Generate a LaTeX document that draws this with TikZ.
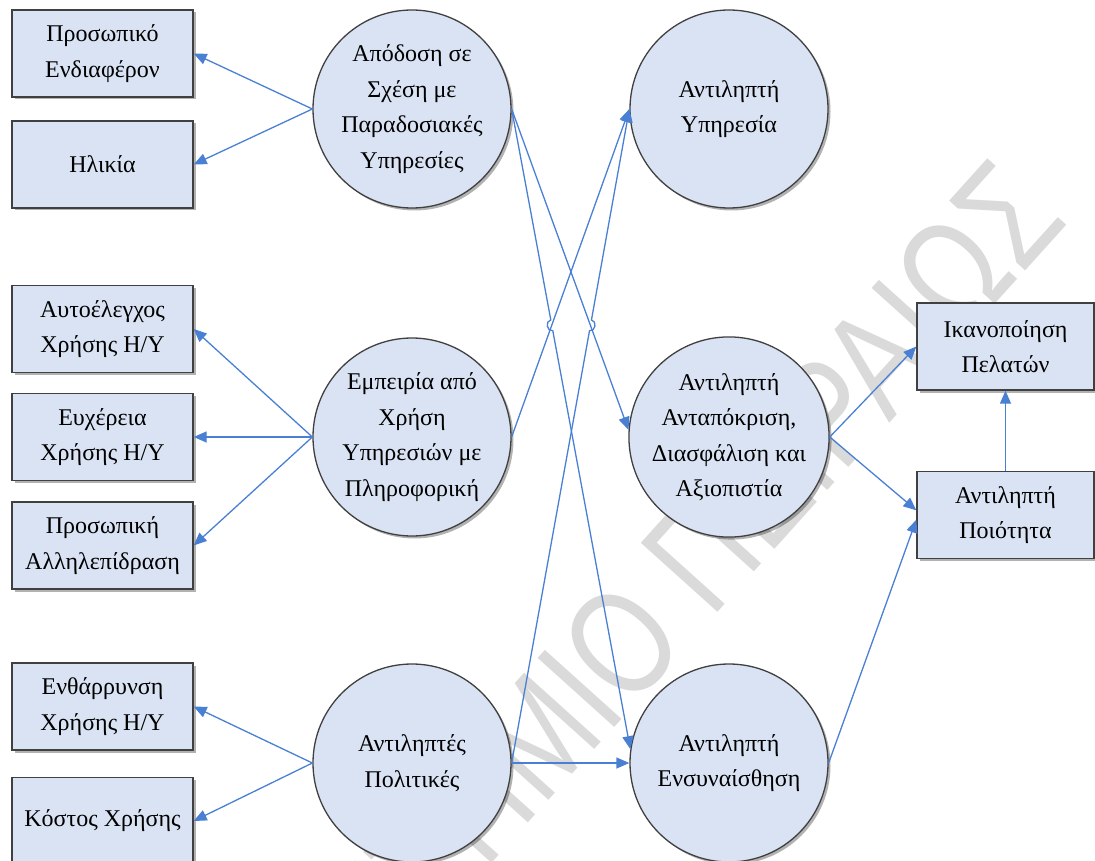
\documentclass[tikz,border=0pt]{standalone}
\usepackage{fontspec}
\setmainfont{Liberation Serif}
\newfontfamily\wmfont{Liberation Sans}
\usetikzlibrary{arrows.meta,calc,shadows}
\definecolor{fillb}{HTML}{DAE3F3}
\definecolor{edgec}{HTML}{404040}
\definecolor{connc}{HTML}{4A80D4}
\definecolor{wmc}{HTML}{DADADA}
\begin{document}
\begin{tikzpicture}[x=1pt,y=-1pt,
  txt/.style={font=\fontsize{24}{35.5}\selectfont, text=black, align=center},
  shad/.style={drop shadow={shadow xshift=2.5pt, shadow yshift=-2.5pt, opacity=0.3, fill=black}},
  box/.style={txt, shad, draw=edgec, line width=1.3pt, fill=fillb, minimum width=181pt, minimum height=87pt, inner sep=0pt},
  rbox/.style={box, minimum width=177pt},
  circ/.style={txt, shad, circle, draw=edgec, line width=1.3pt, fill=fillb, minimum size=198pt, inner sep=0pt},
  link/.style={draw=connc, line width=1.3pt, -{Triangle[length=13pt,width=11pt]}},
  hop/.style={bend right=90, looseness=1.4},
  wm/.style={font=\wmfont\fontsize{150}{150}\selectfont, text=wmc, rotate=48, anchor=base east, inner sep=0pt}
]
\useasboundingbox (0,0) rectangle (1095,861);
\clip (0,0) rectangle (1095,861);

% watermark
\node[wm] (wmk) at (1070,222) {\scalebox{0.78}[1]{ΠΑΝΕΠΙΣΤΗΜΙΟ ΠΕΙΡΑΙΩΣ}};

% left boxes
\node[box] (b1) at (102.5,53.5) {Προσωπικό\\Ενδιαφέρον};
\node[box] (b2) at (102.5,164.5) {Ηλικία};
\node[box] (b3) at (102.5,329) {Αυτοέλεγχος\\Χρήσης Η/Υ};
\node[box] (b4) at (102.5,437) {Ευχέρεια\\Χρήσης Η/Υ};
\node[box] (b5) at (102.5,545.5) {Προσωπική\\Αλληλεπίδραση};
\node[box] (b6) at (102.5,706.5) {Ενθάρρυνση\\Χρήσης Η/Υ};
\node[box] (b7) at (102.5,821) {Κόστος Χρήσης};

% circles
\node[circ] (c1) at (412,109) {Απόδοση σε\\Σχέση με\\Παραδοσιακές\\Υπηρεσίες};
\node[circ] (c2) at (412,437) {Εμπειρία από\\Χρήση\\Υπηρεσιών με\\Πληροφορική};
\node[circ] (c3) at (412,763) {Αντιληπτές\\Πολιτικές};
\node[circ] (c4) at (729,109) {Αντιληπτή\\Υπηρεσία};
\node[circ] (c5) at (729,437) {Αντιληπτή\\Ανταπόκριση,\\Διασφάλιση και\\Αξιοπιστία};
\node[circ] (c6) at (729,763) {Αντιληπτή\\Ενσυναίσθηση};

% right boxes
\node[rbox] (s) at (1005.5,346.5) {Ικανοποίηση\\Πελατών};
\node[rbox] (q) at (1005.5,515) {Αντιληπτή\\Ποιότητα};

% helper coordinates
\coordinate (e1) at (c1.east);
\coordinate (e2) at (c2.east);
\coordinate (e3) at (c3.east);
\coordinate (w4) at (c4.west);
\coordinate (w5) at (c5.176);
\coordinate (w6) at (c6.172);
\coordinate (X1) at (intersection of e1--w6 and e2--w4);
\coordinate (X2) at (intersection of e3--w4 and e1--w5);

% connectors to left boxes
\draw[link] (c1.west) -- (b1.east);
\draw[link] (c1.west) -- (b2.east);
\draw[link] (c2.west) -- (b3.east);
\draw[link] (c2.west) -- (b4.east);
\draw[link] (c2.west) -- (b5.east);
\draw[link] (c3.west) -- (b6.east);
\draw[link] (c3.west) -- (b7.east);

% crossing connectors
\draw[link] (e1) -- (w5);
\draw[link] (e1) -- ($(X1)!5.5pt!(e1)$) to[hop] ($(X1)!5.5pt!(w6)$) -- (w6);
\draw[link] (e2) -- (w4);
\draw[link] (e3) -- ($(X2)!5.5pt!(e3)$) to[hop] ($(X2)!5.5pt!(w4)$) -- (w4);
\draw[link] (c3.east) -- (c6.west);

% right side
\draw[link] (c5.east) -- (s.west);
\draw[link] (c5.east) -- (q.177);
\draw[link] (c6.east) -- (q.183);
\draw[link] (q.north) -- (s.south);
\end{tikzpicture}
\end{document}
